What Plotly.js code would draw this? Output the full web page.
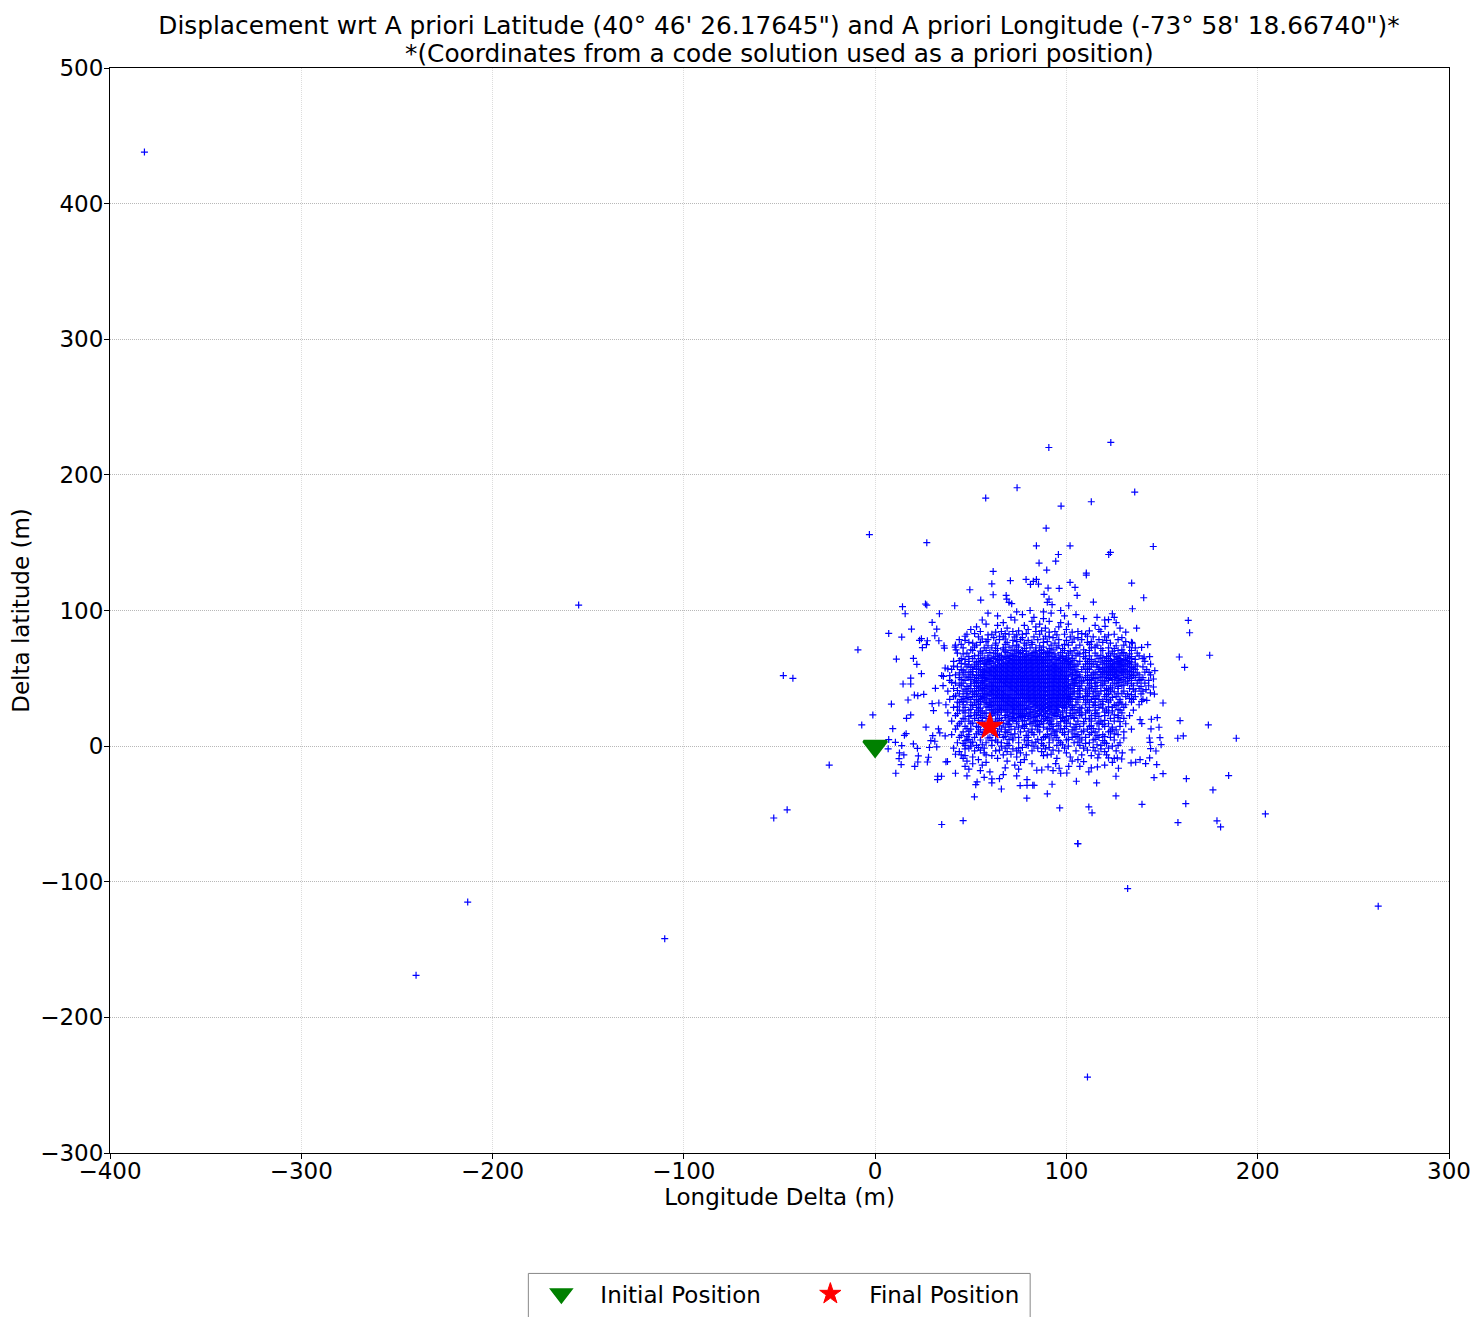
<!DOCTYPE html>
<html><head><meta charset="utf-8">
<script src="https://cdn.plot.ly/plotly-3.0.1.min.js"></script>
<style>html,body{margin:0;padding:0;background:#fff;overflow:hidden}#c{width:1473px;height:1317px}</style>
</head><body><div id="c"></div>
<script>
const titleLine1 = "Displacement wrt A priori Latitude (40° 46' 26.17645\") and A priori Longitude (-73° 58' 18.66740\")*";
const titleLine2 = "*(Coordinates from a code solution used as a priori position)";
const initialPosition = [0, 0];
const finalPosition = [60, 14.4];
const outliers = [[-382,438],[-155,104],[-213,-115],[-240,-169],[-110,-142],[263,-118],[111,-244],[132,-105],[106,-72],[204,-50],[-53,-53],[-46,-47],[-48,52],[-43,50],[-24,-14],[-9,71],[-3,156],[27,150],[-1.2,23],[-7,15.6]];
const scattered = [[90.8,220.2],[123.2,223.9],[74.2,190.5],[57.8,182.9],[135.7,187.3],[97.2,177],[113,180.2],[89.4,160.7],[84.3,147.7],[101.9,147.7],[145.4,147.2],[122.1,141.3],[123,142.8],[95.8,141.3],[94.4,136.4],[85.7,135],[89.7,129.8],[61.7,128.8],[110.4,127.6],[110.4,126.1],[78.9,122.9],[84.3,122.9],[82.7,121.5],[81.2,119.2],[85.4,119.5],[70.7,122],[61,119.7],[101.9,120.7],[104.5,117],[90.4,116.5],[96.2,116.3],[134.1,120.2],[49.5,115.3],[61.7,111.6],[55.2,107.7],[105.6,111.1],[88.3,111.9],[68.5,111.1],[68.8,108.4],[70,106],[71.4,105],[90.9,108.4],[90,106],[92.5,104.3],[114.1,106.2],[140.4,109.4],[101.2,103.5],[134.5,101.3],[41.6,103.5],[26.3,104.8],[27,104],[33.6,97.6],[29.8,91.2],[32.2,86.3],[31.2,81.4],[33.3,77.7],[24.2,79.2],[23.2,78],[27.3,77.7],[26.8,74.8],[24.7,72.6],[36,74],[36.2,72.3],[41.8,73],[42.3,71],[36.6,57.6],[34.8,52],[35.7,51.5],[31.5,42.6],[35.5,44.6],[29.8,31.3],[33.3,31.8],[30.5,26.2],[14.3,102.8],[15.7,97.6],[7.1,83.1],[13.9,80.4],[19,86.3],[11.1,64.2],[20,64.7],[21.8,60.3],[24.2,53.4],[18.6,50.2],[14.6,45.8],[18.6,45.8],[20.5,37.7],[22.3,37.2],[25.4,38.2],[17.2,34],[8.5,31],[18.6,23],[16.4,20.5],[9.2,12.9],[16.2,9.2],[15.3,8],[7.1,4.8],[10.6,2.8],[13.9,0.4],[6.8,-2],[20,1.6],[22.1,-1.6],[12.7,-5],[15,-6.5],[12.5,-9.2],[13.6,-13.6],[10.8,-20],[20.7,-15],[22.3,-11.7],[22.6,-7.2],[27.3,-11.7],[27.9,-8.2],[28.4,-1],[29.1,4],[31.2,3.6],[30.1,7.7],[32.2,-0.6],[26.6,14],[33.1,12.7],[33.8,9.7],[36.6,7.5],[37.8,-11.4],[37,-11.6],[32.7,-22.2],[34.7,-22.2],[32.6,-24.7],[34.8,-57.8],[46,-55],[163.7,92.7],[164.4,83.6],[159,65.7],[174.9,67],[161.8,58.1],[150.5,31.8],[159.4,18.8],[174.2,15.6],[188.8,5.8],[158.2,5.8],[161.1,7.5],[184.8,-21.7],[162.7,-24],[176.6,-32.3],[162.4,-42.4],[158.3,-56.4],[178.7,-55.1],[180.6,-59.6],[105.9,-71.8],[139.5,-42.9],[113.4,-49.2],[111.7,-44.8],[96.5,-45.6],[125.9,-36.7],[79.3,-38.4],[51.9,-37.4],[90,-35.2],[66,-31.6],[75.8,-29.1],[79.4,-28.9],[82.4,-28.9],[83.1,-28.9],[92.5,-28.1],[105.2,-25.9],[115.8,-27.1],[61,-24.2],[61,-27.1],[79.4,-24.7],[53.3,-26.4],[52.6,-28.4],[145.8,-23.2],[150.5,-20.3],[125.9,-22.2],[100.2,-19.8],[111.7,-19],[84.5,-17.8],[87.1,-17.6],[90.4,-15.3],[96.2,-16.3],[94.4,-12.9],[101.2,-15],[109,-11.4],[116.2,-15.3],[127.2,-16.3],[141.4,-12.9],[147.2,-13.6],[133.8,-12.4],[136.2,-11.9],[138.5,-10],[143.5,-8.7],[122,-8.7],[126.6,-8.7],[128.9,-9.5],[129.2,-5],[116.4,-8.7],[134.3,-2.8],[146.8,-3.6],[144,-1.8],[149.5,1.1],[143.7,2.8],[143.4,6],[148.9,6.3],[148.4,13.9],[144.2,12.7],[144.4,19.8],[147.5,21],[139.4,16.6],[138.5,19.5],[142,33.8],[139.3,33],[143.9,39.2],[146,38.4],[145.5,43.6],[141.6,41.6],[145.5,49.5],[146.2,55.6],[143.2,54.4],[143.5,66],[140.6,65.7],[142.5,74.8],[139.3,72.8],[134.5,76],[136.7,87],[124,97.6],[125,95],[122,93.2],[120.2,88.3]];
// each row: latitude, then the longitudes read along that latitude
const cloudRows = [
[100,81,97],[99,74,88],[98,59,92],[97,77,105],[96,64,99],[95,71,83,116],[94,88,109],[93,56,73,120],[92,82,91],[91,67,97,126],
[90,58,86,101],[89,64,78,115],[88,53,84,96],[87,69,89,128],[86,50,80,100,117],[85,75,87,112],[84,63,91,103,131],[83,52,68,79,108],[82,59,74,95,122],[81,47,65,89,111],
[80,62,77,93,106,129],[79,56,68,88,104],[78,47,72,80,100,121],[77,58,74,90,113,131],[76,51,63,78,94,123],[75,45,68,82,99,112],[74,59,72,86,96,126],[73,52,70,75,88,115,133],[72,64,78,91,98,118,125],[71,50,67,73,87,93,109,129],
[70,55,68,74,79,84,90,102,124],[69,60,69,76,83,88,92,97,110,130],[68,46,64,72,77,80,86,89,94,107,125,133],[67,54,66,70,73,79,82,85,91,96,103,118,128],[66,49,63,68,71,75,78,84,87,90,93,98,109,121,126,134],[65,57,61,66,69,74,77,80,83,86,89,94,97,101,119,127,132],[64,47,59,64,67,72,76,79,82,85,88,92,95,100,113,125,130,136],[63,44,56,60,65,70,73,75,78,81,84,87,91,96,99,104,120,123,128,131],[62,53,58,63,68,71,74,77,80,83,86,89,93,98,102,118,126,129,134],[61,45,57,61,66,69,72,76,79,82,85,88,90,94,97,101,112,121,124,127,132],
[60,49,59,64,67,70,73,75,78,81,84,87,92,95,99,103,116,123,128,130,133],[59,41,52,62,65,68,71,74,77,80,83,86,89,91,93,96,100,105,122,125,129,131,137],[58,50,60,63,66,69,72,76,79,82,85,88,90,94,98,102,117,120,124,127,134],[57,38,53,58,61,64,67,70,73,75,78,81,84,87,92,95,97,101,111,119,123,126,130,135],[56,46,56,59,62,65,68,71,74,77,80,83,86,89,91,93,96,99,104,121,125,128,132],[55,51,57,60,63,66,69,72,75,79,82,85,88,90,94,97,100,106,118,122,126,129,133],[54,44,58,61,64,67,70,73,76,78,81,84,87,92,95,98,102,114,120,124,127,131,137],[53,50,55,59,62,65,68,71,74,77,80,83,86,89,91,93,96,99,103,116,121,125,130,134],[52,39,53,57,60,63,66,69,72,75,79,82,85,88,90,94,97,100,105,111,123,128,135],[51,48,56,61,64,67,70,73,76,78,81,84,87,92,95,98,101,107,119,126,132],
[50,54,58,62,65,68,71,74,77,80,83,86,89,91,93,96,99,104,115,122,127,133],[49,45,50,59,63,66,69,72,75,79,82,85,88,90,94,97,100,103,112,124,129,139],[48,52,57,60,64,67,70,73,76,78,81,84,87,92,95,98,101,108,120,131],[47,40,53,56,61,65,68,71,74,77,80,83,86,89,91,93,96,99,105,116,128],[46,50,58,62,66,69,72,75,79,82,85,88,90,94,97,100,103,113,126,134],[45,44,57,60,63,67,70,73,76,78,81,84,87,92,95,98,101,104,119,130],[44,48,53,59,61,64,68,71,74,77,80,83,86,89,91,93,96,99,106,115,127,139],[43,55,58,62,65,69,72,75,79,82,85,88,90,94,97,100,102,112,124],[42,47,56,60,63,66,70,73,76,78,81,84,87,92,95,98,101,110,122,135],[41,43,54,57,61,64,67,71,74,77,80,83,86,89,91,93,96,99,107,120],
[40,51,59,62,65,68,72,75,79,82,85,88,90,94,97,100,104,115,125],[39,48,56,60,63,66,69,73,76,78,81,84,87,92,95,98,101,111,129],[38,52,58,61,64,67,70,74,77,80,83,86,89,91,93,96,99,102,121,134],[37,42,55,59,62,65,68,71,75,79,82,85,88,90,94,97,100,110,116],[36,49,57,63,66,69,72,76,78,81,84,87,92,95,98,101,107,124],[35,47,56,60,64,67,70,73,77,80,83,86,89,91,93,96,99,103,115,133],[34,53,58,61,65,68,71,74,79,82,85,88,90,94,97,100,111,123],[33,46,55,62,66,69,72,75,78,81,84,87,92,95,98,102,119],[32,44,57,60,63,67,70,73,76,80,83,86,89,91,93,96,99,110,127],[31,54,59,64,68,71,74,77,82,85,88,90,94,97,101,118,129],
[30,51,61,65,69,72,75,79,84,87,92,95,98,103,115,126],[29,43,58,62,66,70,73,76,81,83,86,89,91,93,96,100,122],[28,55,64,67,71,74,78,80,85,88,90,94,99,108,119],[27,50,61,65,68,72,75,79,82,87,92,95,104,127],[26,46,56,63,69,73,77,84,86,89,91,98,112,124],[25,54,62,66,70,76,81,83,88,93,96,107,120],[24,43,57,61,72,75,79,85,90,94,103,115],[23,53,64,69,74,78,82,87,92,97,108,125],[22,49,60,71,76,80,84,89,95,100,117],[21,56,68,73,77,83,91,98,104,127],
[20,47,63,70,75,81,88,93,101,112],[19,54,66,72,78,85,90,99,120],[18,45,61,74,83,87,97,109,128],[17,51,64,69,82,91,100,117],[16,57,70,79,86,92,105,119],[15,43,65,77,84,96,113],[14,54,68,75,88,104,124],[13,48,62,78,91,99,114],[12,55,70,85,93,103,126],[11,49,64,80,95,109,123],
[10,57,69,82,98,113],[9,53,73,92,104,125],[8,45,63,79,94,116],[7,48,68,89,105,120],[6,59,72,91,107,130],[5,49,70,85,101,115],[4,47,61,80,96,119],[3,51,64,84,106],[2,46,69,87,110,121],[1,56,79,98,116],
[0,50,66,83,101,124],[-1,54,77,91,114],[-2,47,72,89,118],[-3,55,65,93,111],[-4,44,69,87,120],[-5,57,76,100],[-6,42,71,92,117],[-7,47,61,88,113],[-8,51,74,102],[-9,46,64,95,125],
[-10,54,78,106],[-11,48,69,103],[-12,58,76,124],[-13,51,82],[-14,56,73,120],[-15,47,107],[-16,68,113],[-17,49,75],[-18,55,93],[-19,60],[-20,42,97],[-21,67],[-22,48,74],[-23,57],[-24,65]
];
const denseRows = [
[84.5,55,66,72,84,94,106,118],[82.5,48,61,70,77,86,99,110,125],[80.5,54,67,73,83,91,102,114,120],[78.5,44,59,65,76,85,96,108,117,127],[76.5,49,55,69,82,88,103,111,119,134],[74.5,42,53,63,74,79,92,101,107,116,130],[72.5,46,57,61,67,81,84,95,105,113,122,136],[70.5,51,58,63,71,77,86,99,104,112,119,127,134],
[68.5,43,48,56,62,75,82,91,101,106,115,122,129,137],[66.5,52,59,65,72,81,100,105,112,116,123,131,138],[64.5,45,51,55,62,70,98,103,110,117,122,128,134,140],[62.5,41,49,54,60,101,107,111,115,122,127,133,141],[60.5,47,52,55,58,102,106,110,114,119,125,129,136,144],[58.5,43,48,54,57,104,109,113,116,123,128,133,140],[56.5,40,45,51,55,103,108,112,117,124,130,136,142],[54.5,47,49,54,57,105,110,115,119,123,129,135,141],
[52.5,42,46,51,56,103,107,113,118,122,126,133,138,144],[50.5,44,49,52,57,106,110,114,117,121,125,130,136,140],[48.5,39,47,53,56,105,109,113,118,122,127,134,138,143],[46.5,42,46,52,55,104,107,111,115,120,125,132,137,141],[44.5,45,50,54,56,102,108,112,118,123,129,135,143],[42.5,41,49,52,57,104,107,113,116,121,127,133,138],[40.5,38,46,50,54,103,106,110,114,118,123,130,136,140],[38.5,44,48,53,57,104,107,112,117,122,127,132,139],
[36.5,41,46,51,55,102,106,110,114,120,126,131,136],[34.5,39,45,50,54,102,105,109,113,117,121,128,135,140],[32.5,43,48,52,58,101,106,112,115,122,128,134],[30.5,37,46,50,55,60,100,105,110,114,119,125,131,138],[28.5,41,47,53,59,98,103,107,112,117,124,130],[26.5,44,49,54,60,66,95,102,106,111,115,121,128,135],[24.5,38,47,52,58,64,72,81,100,105,110,116,122,129],[22.5,42,50,55,61,68,77,86,94,102,107,113,120,127,133],
[20.5,46,52,58,65,72,80,89,97,104,110,115,123,130],[18.5,40,49,56,63,70,77,84,92,99,106,113,118,125],[16.5,44,50,59,67,74,81,88,95,102,109,116,122,131],[14.5,47,53,62,71,78,85,93,100,107,112,120,128],[12.5,42,50,58,66,73,82,90,97,105,111,117,124,134],[10.5,46,54,61,68,76,86,94,101,108,115,122,130],[8.5,40,49,56,65,71,83,90,99,106,112,119,127],[6.5,44,52,60,67,75,80,88,95,103,110,117,123],
[4.5,48,55,63,72,78,87,93,100,108,114,125],[2.5,43,50,58,66,75,82,91,97,104,112,120,128],[0.5,47,53,61,70,80,88,95,107,118,127],[-1.5,41,49,57,68,75,85,99,109,122],[-3.5,52,63,74,82,96,105,115,126],[-6.5,45,58,67,79,90,108,121]
];
const cloudPoints = outliers.concat(scattered);
for (const row of cloudRows.concat(denseRows)) for (const lon of row.slice(1)) cloudPoints.push([lon, row[0]]);

const font = "DejaVu Sans, sans-serif";
const axisBase = {showline:true, mirror:true, linecolor:'#000', linewidth:1, ticks:'outside', ticklen:5, tickcolor:'#000', zeroline:false, griddash:'1px,1px', gridwidth:1, tickfont:{size:23,color:'#000',family:font}};
const traces = [
 {type:'scatter',mode:'markers',x:cloudPoints.map(p=>p[0]),y:cloudPoints.map(p=>p[1]),showlegend:false,hoverinfo:'skip',marker:{symbol:'cross-thin',size:5,color:'#0000ff',line:{width:1.2,color:'#0000ff'}}},
 {type:'scatter',mode:'markers',x:[initialPosition[0]],y:[initialPosition[1]],name:'Initial Position',marker:{symbol:'triangle-down',size:20,color:'#008000',line:{width:3,color:'#008000'}}},
 {type:'scatter',mode:'markers',x:[finalPosition[0]],y:[finalPosition[1]],name:'Final Position',marker:{symbol:'star',size:20,color:'#ff0000',line:{width:1,color:'#ff0000'}}}
];
const layout = {
 width:1473,height:1317,paper_bgcolor:'#fff',plot_bgcolor:'#fff',
 margin:{l:109.5,r:24,t:68,b:163.5,pad:0,autoexpand:false},
 font:{family:font,color:'#000'},
 title:{text:titleLine1,font:{size:24.8,family:font,color:'#000'},x:0.5288,xanchor:'center',y:0.981,yanchor:'middle'},
 annotations:[{text:titleLine2,xref:'paper',yref:'paper',x:0.4998,y:1.0138,xanchor:'center',yanchor:'middle',showarrow:false,font:{size:24.8,family:font,color:'#000'}}],
 shapes:[{type:'rect',xref:'paper',yref:'paper',x0:0.31243,x1:0.6872,y0:-0.158,y1:-0.111,line:{color:'#888',width:1},fillcolor:'rgba(0,0,0,0)',layer:'above'}],
 xaxis:Object.assign({},axisBase,{range:[-400,300],tick0:-400,dtick:100,gridcolor:'#dcdcdc',ticklabelstandoff:-8,title:{text:'Longitude Delta (m)',font:{size:23,family:font,color:'#000'},standoff:2}}),
 yaxis:Object.assign({},axisBase,{range:[-300,500],tick0:-300,dtick:100,gridcolor:'#b8b8b8',ticklabelstandoff:-4,title:{text:'Delta latitude (m)',font:{size:23,family:font,color:'#000'},standoff:4}}),
 legend:{orientation:'h',x:0.30795,xanchor:'left',y:-0.11,yanchor:'top',borderwidth:0,font:{size:23,family:font,color:'#000'},bgcolor:'rgba(0,0,0,0)',traceorder:'normal',itemwidth:68,entrywidth:186,entrywidthmode:'pixels'}
};
Plotly.newPlot('c',traces,layout,{displayModeBar:false,staticPlot:true});
</script></body></html>
